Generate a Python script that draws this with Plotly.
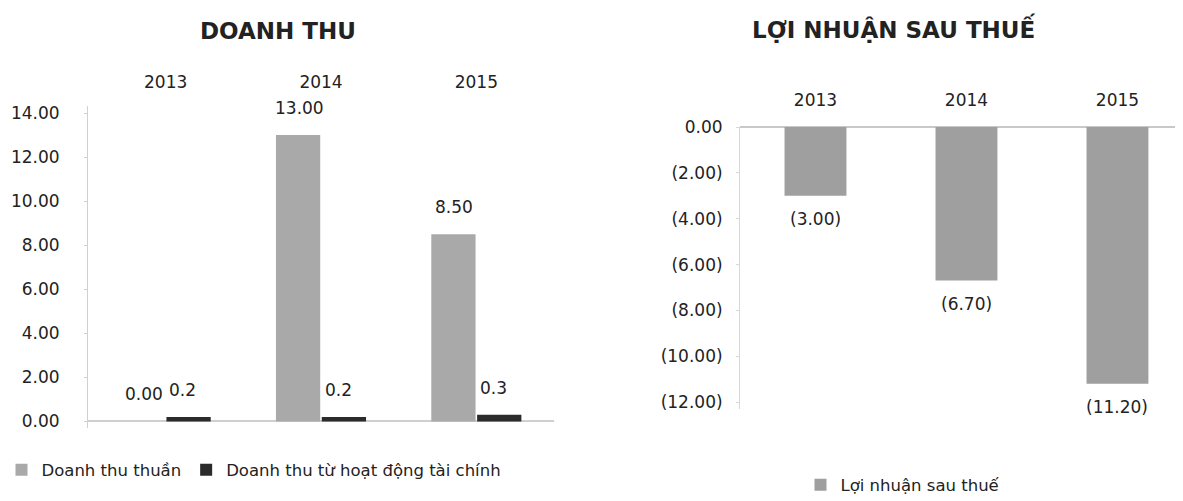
import plotly.graph_objects as go

years = ["2013", "2014", "2015"]
doanh_thu_thuan = [0.00, 13.00, 8.50]
doanh_thu_tai_chinh = [0.2, 0.2, 0.3]
loi_nhuan = [-3.00, -6.70, -11.20]

left_ticks = [0, 2, 4, 6, 8, 10, 12, 14]
right_ticks = [0, -2, -4, -6, -8, -10, -12]
right_ticktext = ["0.00", "(2.00)", "(4.00)", "(6.00)", "(8.00)", "(10.00)", "(12.00)"]

FONT = "DejaVu Sans"
W, H = 1183, 501
OFF = 8  # page body margin


def fy(page_y):
    return 1 - (page_y - OFF) / H


def fx(page_x):
    return (page_x - OFF) / W


fig = go.Figure()

fig.add_trace(go.Bar(
    x=years, y=doanh_thu_thuan, name="Doanh thu thuần",
    marker=dict(color="#a9a9a9", line=dict(width=0)),
    width=0.285, offset=-0.29,
    xaxis="x", yaxis="y", legend="legend", hoverinfo="x+y",
))
fig.add_trace(go.Bar(
    x=years, y=doanh_thu_tai_chinh, name="Doanh thu từ hoạt động tài chính",
    marker=dict(color="#2b2b2b", line=dict(width=0)),
    width=0.285, offset=0.005,
    xaxis="x", yaxis="y", legend="legend", hoverinfo="x+y",
))
fig.add_trace(go.Bar(
    x=years, y=loi_nhuan, name="Lợi nhuận sau thuế",
    marker=dict(color="#9f9f9f", line=dict(width=0)),
    width=0.41,
    xaxis="x2", yaxis="y2", legend="legend2", hoverinfo="x+y",
))

label_font = dict(family=FONT, size=17, color="#222")
annotations = []
# category axes: annotation x uses the category's serial index
for i, v in enumerate(doanh_thu_thuan):
    annotations.append(dict(x=i, y=v, xref="x", yref="y", text="%.2f" % v,
                            showarrow=False, xanchor="center", yanchor="middle",
                            xshift=-22, yshift=27, font=label_font))
for i, v in enumerate(doanh_thu_tai_chinh):
    annotations.append(dict(x=i, y=v, xref="x", yref="y", text="%.1f" % v,
                            showarrow=False, xanchor="center", yanchor="middle",
                            xshift=17, yshift=27, font=label_font))
for i, v in enumerate(loi_nhuan):
    annotations.append(dict(x=i, y=v, xref="x2", yref="y2", text="(%.2f)" % abs(v),
                            showarrow=False, xanchor="center", yanchor="middle",
                            yshift=-23, font=label_font))

annotations += [
    dict(text="<b>DOANH THU</b>", x=fx(278), y=fy(31), xref="paper", yref="paper",
         xanchor="center", yanchor="middle", showarrow=False,
         font=dict(family=FONT, size=23, color="#222")),
    dict(text="<b>LỢI NHUẬN SAU THUẾ</b>", x=fx(893), y=fy(28), xref="paper", yref="paper",
         xanchor="center", yanchor="middle", showarrow=False,
         font=dict(family=FONT, size=23, color="#222")),
]

axis_font = dict(family=FONT, size=17, color="#222")
legend_font = dict(family=FONT, size=16.5, color="#222")

fig.update_layout(
    width=W, height=H,
    margin=dict(l=0, r=0, t=0, b=0, autoexpand=False),
    paper_bgcolor="white", plot_bgcolor="white",
    font=dict(family=FONT, size=17, color="#222"),
    barmode="overlay",
    showlegend=True,
    xaxis=dict(type="category", domain=[fx(88), fx(554)], range=[-0.5, 2.5], side="top",
               showline=False, showgrid=False, ticks="", tickfont=axis_font,
               ticklabelstandoff=14, anchor="y"),
    yaxis=dict(domain=[fy(428), fy(106.4)], range=[-0.3, 14.3],
               tickvals=left_ticks, tickformat=".2f", showgrid=False,
               showline=True, linecolor="#d0d0d0", linewidth=1,
               ticks="outside", ticklen=3, tickcolor="#d0d0d0",
               zeroline=True, zerolinecolor="#cfcfcf", zerolinewidth=1.5,
               tickfont=axis_font, ticklabelstandoff=21, anchor="x"),
    xaxis2=dict(type="category", domain=[fx(740), 1.0], range=[-0.5, 2.487], side="top",
                showline=False, showgrid=False, ticks="", tickfont=axis_font,
                ticklabelstandoff=17, anchor="y2"),
    yaxis2=dict(domain=[fy(409), fy(127)], range=[-12.3, 0.0],
                tickvals=right_ticks, ticktext=right_ticktext, showgrid=False,
                showline=True, linecolor="#d8d8d8", linewidth=1,
                ticks="outside", ticklen=3, tickcolor="#d8d8d8",
                zeroline=True, zerolinecolor="#c8c8c8", zerolinewidth=1.5,
                tickfont=axis_font, ticklabelstandoff=10, anchor="x2"),
    legend=dict(orientation="h", x=fx(254), y=fy(470), xanchor="center", yanchor="middle",
                font=legend_font, itemwidth=30, bgcolor="rgba(0,0,0,0)"),
    legend2=dict(orientation="h", x=fx(903), y=fy(485), xanchor="center", yanchor="middle",
                 font=legend_font, itemwidth=30, bgcolor="rgba(0,0,0,0)"),
    annotations=annotations,
)

fig.write_html("out.html")
